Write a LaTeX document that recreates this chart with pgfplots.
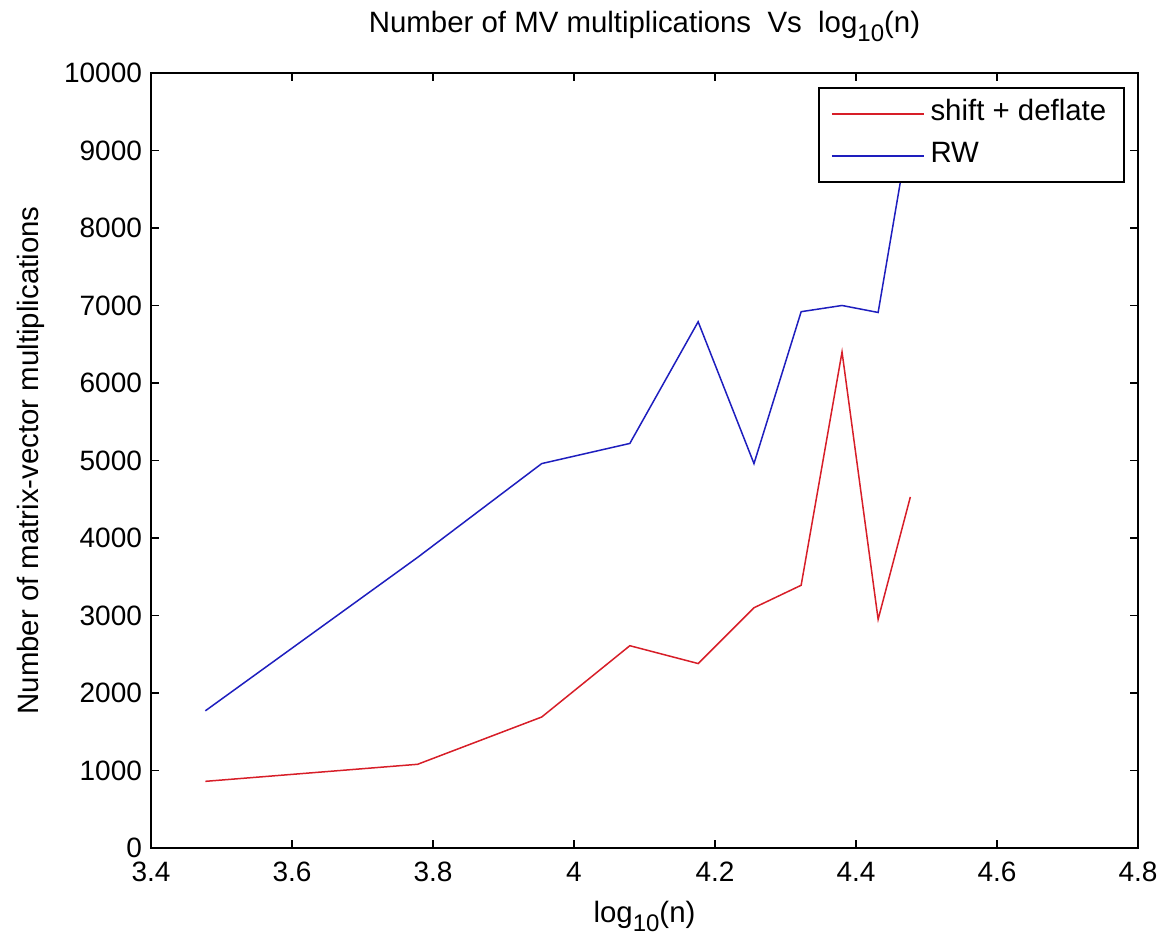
\documentclass[border=0pt]{standalone}
\usepackage{fontspec}
\setmainfont{Liberation Sans}
\usepackage{pgfplots}
\pgfplotsset{compat=1.18}
\definecolor{mred}{RGB}{215,30,40}
\definecolor{mblue}{RGB}{30,30,190}
\newcommand{\sub}[1]{\raisebox{-4.5pt}{\fontsize{12}{12}\selectfont #1}}
\begin{document}
\begin{tikzpicture}
\begin{axis}[
  scale only axis,
  width=493.5pt, height=387.5pt,
  xmin=3.4, xmax=4.8, ymin=0, ymax=10000,
  xtick={3.4,3.6,...,4.8},
  xticklabels={3.4,3.6,3.8,4,4.2,4.4,4.6,4.8},
  ytick={0,1000,...,10000},
  /pgf/number format/1000 sep={},
  /pgf/number format/assume math mode=true,
  scaled y ticks=false,
  tick align=inside,
  major tick length=4pt,
  tick style={black, line width=0.8pt},
  axis line style={black, line width=0.8pt},
  every tick label/.append style={font=\fontsize{14}{16}\selectfont},
  xticklabel style={yshift=-3.5pt},
  yticklabel style={xshift=-1pt},
  label style={font=\fontsize{14.7}{17}\selectfont},
  title style={font=\fontsize{14.7}{17}\selectfont, at={(axis description cs:0.5,1.037)}, anchor=base},
  title={Number of MV multiplications\ \ Vs\ \ log\sub{10}(n)},
  xlabel={log\sub{10}(n)},
  ylabel={Number of matrix-vector multiplications},
  xlabel style={at={(axis description cs:0.5,-0.0965)}, anchor=base},
  ylabel style={at={(axis description cs:-0.1216,0.5)}, anchor=center, rotate=0},
  legend style={at={(1,1)}, anchor=north east, xshift=-6.5pt, yshift=-7pt,
    draw=black, line width=0.8pt, fill=white,
    font=\fontsize{14.7}{17}\selectfont,
    inner xsep=6pt, inner ysep=2.5pt,
    nodes={inner sep=3pt, text height=11pt, text depth=4pt}},
  legend cell align=left,
  legend image code/.code={\draw[#1, line width=0.75pt] (0pt,0pt) -- (46pt,0pt);},
]
\addplot[mred, line width=0.75pt] coordinates {
(3.4771,860) (3.7782,1080) (3.9542,1690) (4.0792,2610) (4.1761,2380)
(4.2553,3100) (4.3222,3390) (4.3802,6400) (4.4314,2950) (4.4771,4530)
};
\addlegendentry{shift + deflate}
\addplot[mblue, line width=0.75pt] coordinates {
(3.4771,1770) (3.7782,3750) (3.9542,4960) (4.0792,5220) (4.1761,6790)
(4.2553,4960) (4.3222,6920) (4.3802,7000) (4.4314,6910) (4.4771,9350)
};
\addlegendentry{RW}
\end{axis}
\pgfresetboundingbox
\path ([shift={(-75.5pt,-46pt)}]current axis.south west) rectangle ([shift={(12.5pt,36.5pt)}]current axis.north east);
\end{tikzpicture}
\end{document}
